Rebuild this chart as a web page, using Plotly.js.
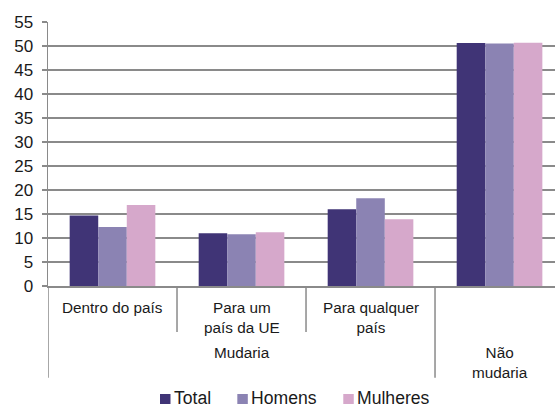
<!DOCTYPE html>
<html>
<head>
<meta charset="utf-8">
<script src="https://cdn.plot.ly/plotly-3.0.1.min.js"></script>
<style>html,body{margin:0;padding:0;overflow:hidden;background:#fff}</style>
</head>
<body>
<div id="chart" style="width:555px;height:407px"></div>
<script>
const categories = ["Dentro do país", "Para um país da UE", "Para qualquer país", "Não mudaria"];
const subLabels = ["Dentro do país", "Para um<br>país da UE", "Para qualquer<br>país", ""];
const groupLabels = ["Mudaria", "Não<br>mudaria"];
const seriesNames = ["Total", "Homens", "Mulheres"];
const totalVals = [14.7, 11.0, 16.0, 50.6];
const homensVals = [12.3, 10.8, 18.3, 50.5];
const mulheresVals = [16.9, 11.2, 13.9, 50.7];
const colors = ["#403476", "#8b83b3", "#d6a8cb"];

const vals = [totalVals, homensVals, mulheresVals];
const traces = vals.map((v, i) => ({
  type: "bar",
  name: seriesNames[i],
  x: categories,
  y: v,
  marker: {color: colors[i], line: {width: 0}},
  hoverinfo: "skip",
  showlegend: false
}));

const font = "Liberation Sans, Arial, sans-serif";
const gray = "#8a8a8a";
const textColor = "#1a1a1a";

// group label centres (category index units)
const groupX = [1, 3];
// custom legend: left edge of each colour square (paper units)
const legendX = [0.2209, 0.3734, 0.5824];
const sq = 0.0207;       // square width in paper-x units (~10.5px)
const sqTop = -0.409, sqBottom = -0.447;

const annotations = [];
subLabels.forEach((t, i) => {
  if (!t) return;
  annotations.push({xref: "x", yref: "paper", x: categories[i], y: -0.04, yanchor: "top",
    xanchor: "center", text: t, showarrow: false, font: {family: font, size: 15.3, color: textColor}});
});
groupLabels.forEach((t, i) => {
  annotations.push({xref: "x", yref: "paper", x: groupX[i], y: -0.212, yanchor: "top",
    xanchor: "center", text: t, showarrow: false, font: {family: font, size: 15.3, color: textColor}});
});

const shapes = [];
[0.5, 1.5].forEach(xv => shapes.push({type: "line", xref: "x", yref: "paper", x0: xv, x1: xv,
  y0: 0, y1: -0.174, line: {color: gray, width: 1.5}}));
[-0.5, 2.5].forEach(xv => shapes.push({type: "line", xref: "x", yref: "paper", x0: xv, x1: xv,
  y0: 0, y1: -0.348, line: {color: gray, width: 1.5}}));

seriesNames.forEach((n, i) => {
  shapes.push({type: "rect", xref: "paper", yref: "paper", x0: legendX[i], x1: legendX[i] + sq,
    y0: sqBottom, y1: sqTop, fillcolor: colors[i], line: {width: 0}});
  annotations.push({xref: "paper", yref: "paper", x: legendX[i] + sq + 0.004, y: -0.424, yanchor: "middle",
    xanchor: "left", showarrow: false, borderpad: 0, text: n,
    font: {family: font, size: 17.6, color: textColor}});
});

const layout = {
  width: 555, height: 407,
  margin: {l: 48, r: 0, t: 22, b: 121, pad: 0, autoexpand: false},
  paper_bgcolor: "#fff", plot_bgcolor: "#fff",
  bargap: 0.336, bargroupgap: 0,
  barmode: "group",
  font: {family: font, color: textColor},
  xaxis: {type: "category", range: [-0.5, 3.43], showticklabels: false, ticks: "",
    showline: true, linecolor: gray, linewidth: 1.5, showgrid: false, zeroline: false, fixedrange: true},
  yaxis: {range: [0, 55], dtick: 5, tick0: 0, showgrid: true, gridcolor: gray, gridwidth: 1.3,
    showline: true, linecolor: gray, linewidth: 1.5, ticks: "outside", ticklen: 5, tickcolor: gray,
    tickwidth: 1.3, zeroline: false, tickfont: {family: font, size: 17, color: textColor}, ticklabelstandoff: 5},
  showlegend: false,
  annotations: annotations,
  shapes: shapes
};

Plotly.newPlot("chart", traces, layout, {displayModeBar: false, staticPlot: true});
</script>
</body>
</html>
